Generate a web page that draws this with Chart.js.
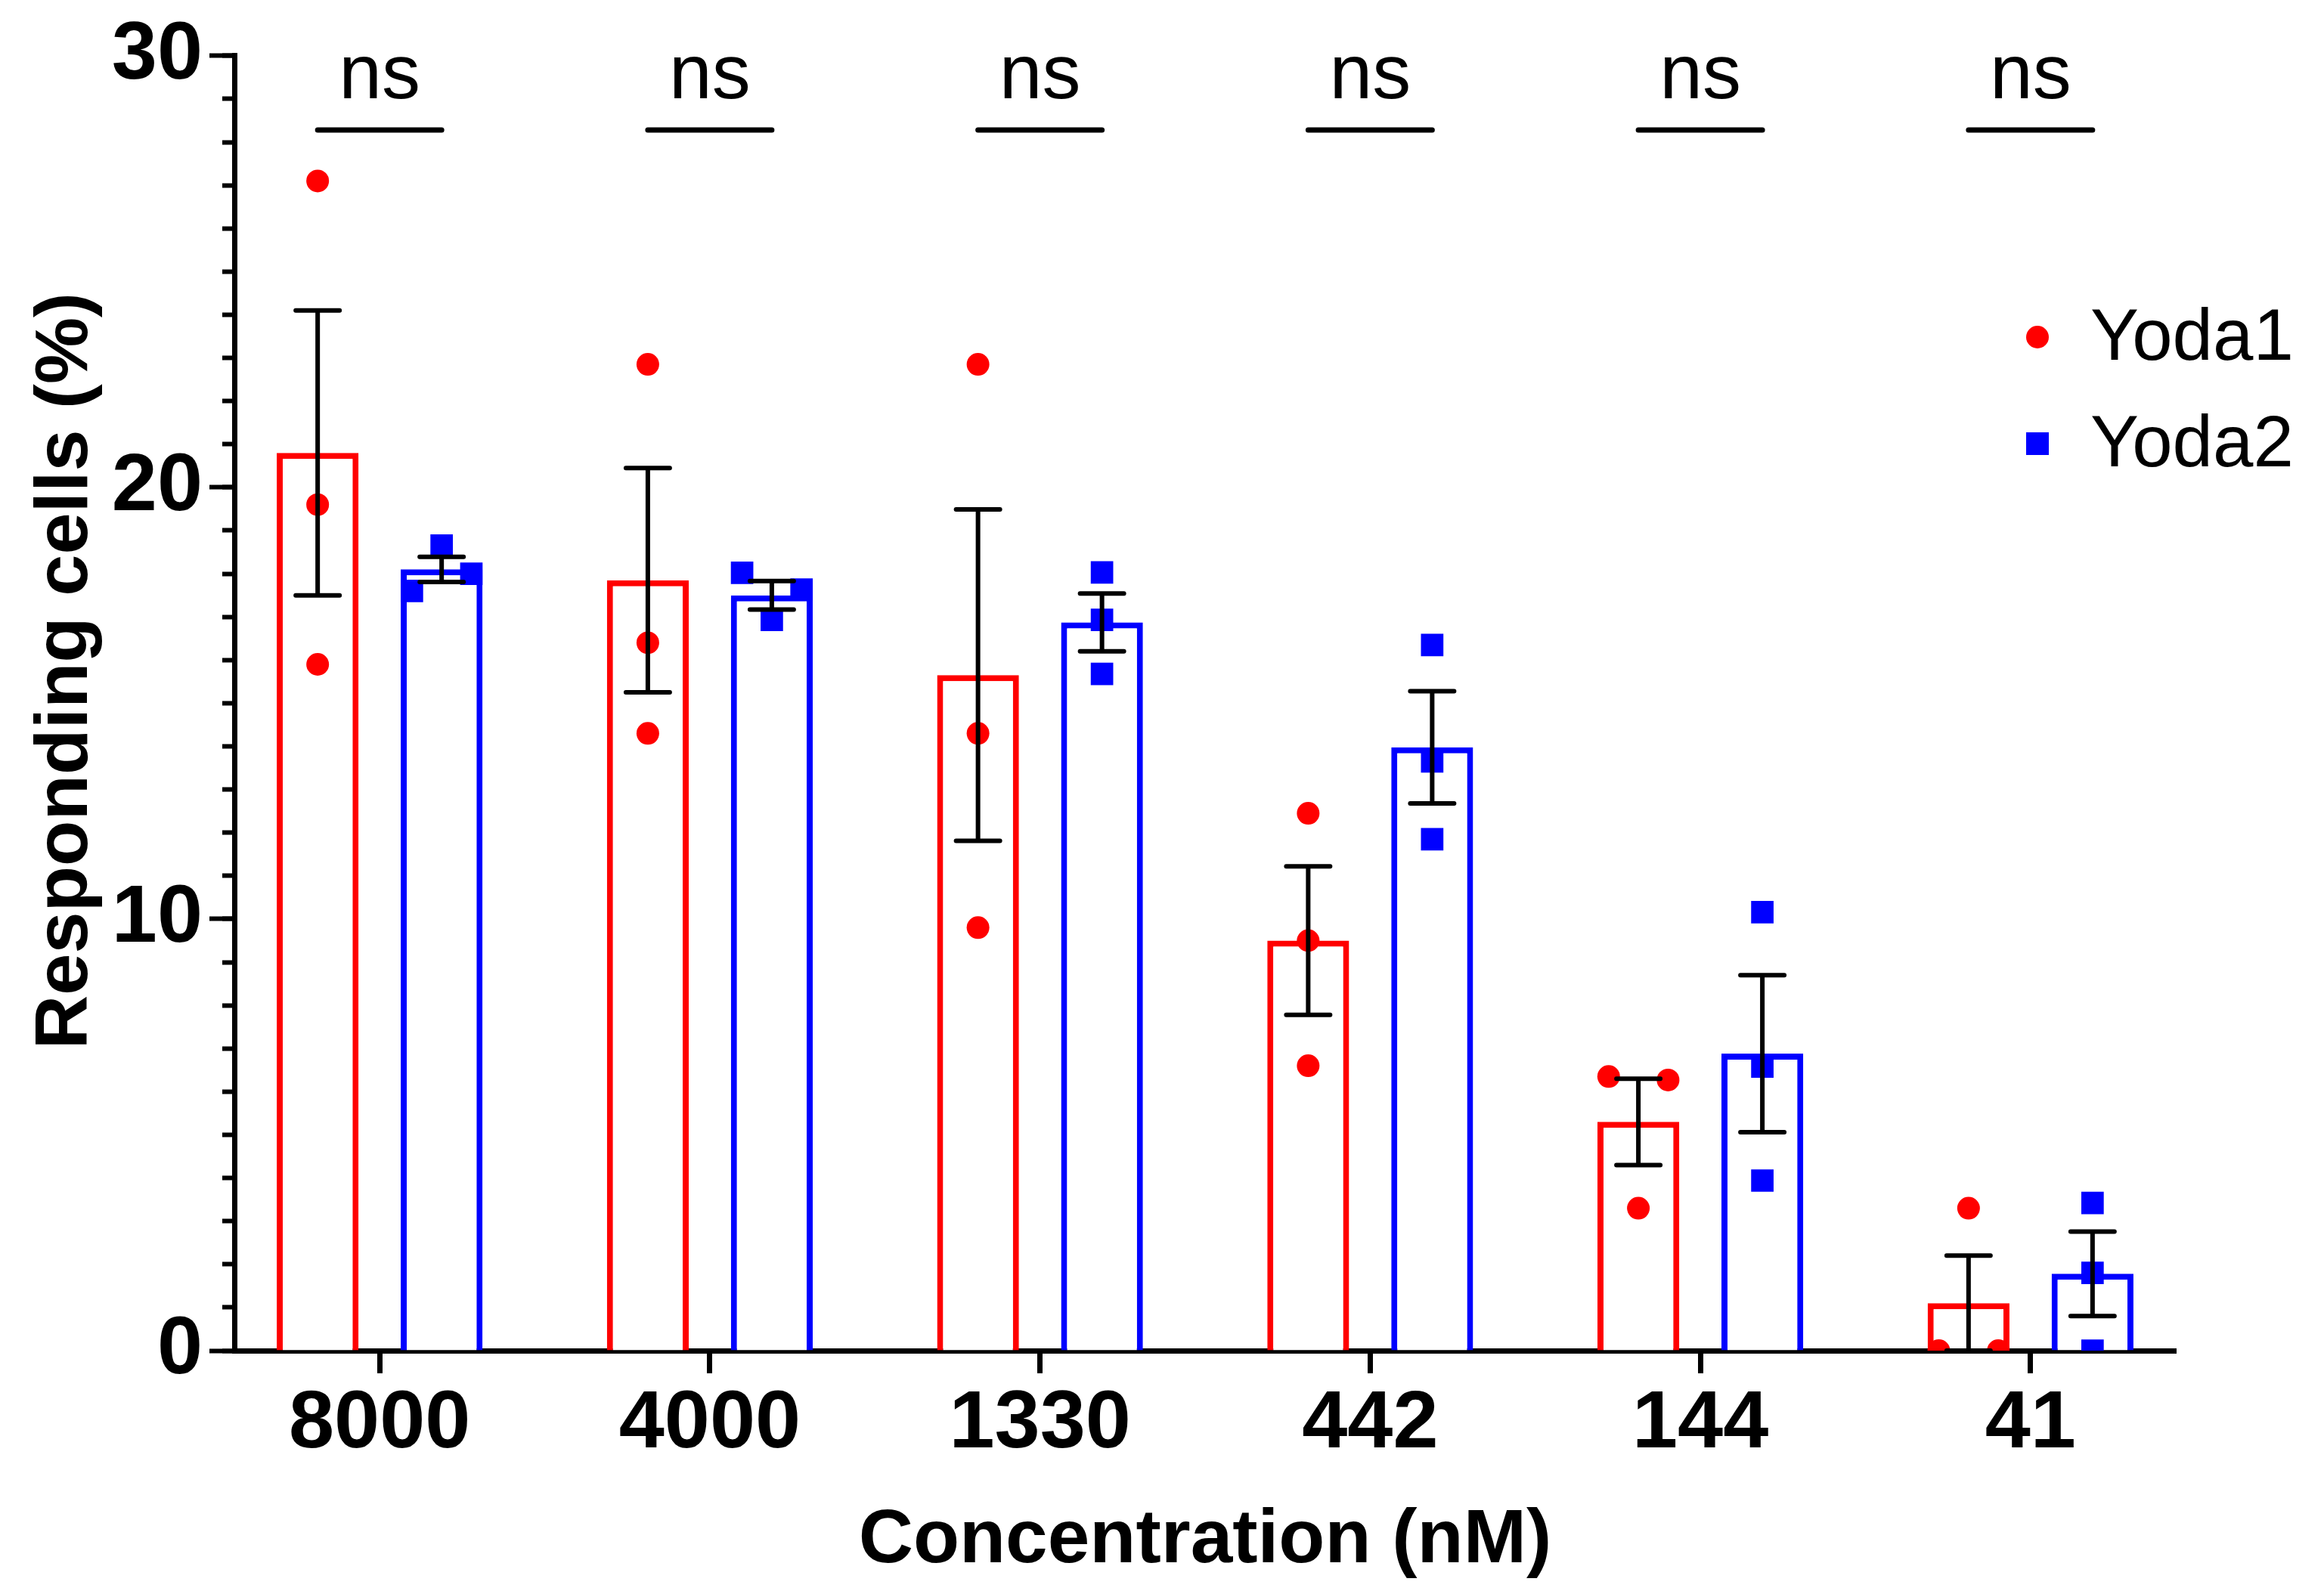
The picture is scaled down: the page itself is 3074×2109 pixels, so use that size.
<!DOCTYPE html>
<html>
<head>
<meta charset="utf-8">
<script src="https://cdn.jsdelivr.net/npm/chart.js@4.4.0/dist/chart.umd.min.js"></script>
<style>
html, body { margin: 0; padding: 0; background: #fff; }
canvas { display: block; }
</style>
</head>
<body>
<canvas id="chart" width="3074" height="2109"></canvas>
<script>
// valores
var categories = ['8000', '4000', '1330', '442', '144', '41'];
var yoda1Mean = [20.8, 17.85, 15.65, 9.5, 5.3, 1.1];
var yoda1Sem = [3.3, 2.6, 3.84, 1.72, 1.0, 1.1];
var yoda2Mean = [18.1, 17.5, 16.87, 13.98, 6.88, 1.78];
var yoda2Sem = [0.29, 0.33, 0.67, 1.3, 1.82, 0.98];
var yoda1Points = [[27.1, 19.6, 15.9], [22.85, 16.4, 14.3], [22.85, 14.3, 9.8], [12.45, 9.5, 6.6], [6.35, 6.27, 3.3], [3.3, 0, 0]];
var yoda1Jitter = [[0, 0, 0], [0, 0, 0], [0, 0, 0], [0, 0, 0], [-1, 1, 0], [0, -1, 1]];
var yoda2Points = [[18.65, 18.0, 17.6], [18.02, 16.93, 17.63], [18.03, 16.93, 15.68], [16.35, 13.65, 11.85], [10.16, 6.58, 3.94], [3.42, 1.8, 0]];
var yoda2Jitter = [[0, 1, -1], [-1, 0, 1], [0, 0, 0], [0, 0, 0], [0, 0, 0], [0, 0, 0]];
var significance = ['ns', 'ns', 'ns', 'ns', 'ns', 'ns'];
var yMajorTicks = [0, 10, 20, 30];
var yTitle = 'Responding cells (%)';

var RED = '#ff0000';
var BLUE = '#0000ff';
var FONT = '"Liberation Sans", Arial, Helvetica, sans-serif';
var GROUP = 0.751;   // categoryPercentage
var BARP = 0.66;     // barPercentage
var SHIFT = GROUP / 4;
var JITTER = 0.09;

function barData(means) {
    return means.map(function (v, i) { return { x: i, y: v }; });
}

function pointsFor(points, jitter, shift) {
    var out = [];
    points.forEach(function (vals, i) {
        vals.forEach(function (v, k) {
            out.push({ x: i + shift + jitter[i][k] * JITTER, y: v });
        });
    });
    return out;
}

// barras de erro (média ± EPM)
var errorBars = {
    id: 'errorBars',
    afterDatasetsDraw: function (chart) {
        var ctx = chart.ctx;
        var xs = chart.scales.x, ys = chart.scales.y;
        var series = [[yoda1Mean, yoda1Sem, -SHIFT], [yoda2Mean, yoda2Sem, SHIFT]];
        ctx.save();
        ctx.strokeStyle = '#000';
        ctx.lineWidth = 6;
        ctx.lineCap = 'round';
        series.forEach(function (s) {
            s[0].forEach(function (m, i) {
                var x = xs.getPixelForValue(i + s[2]);
                var top = ys.getPixelForValue(m + s[1][i]);
                var bot = ys.getPixelForValue(Math.max(0, m - s[1][i]));
                ctx.beginPath();
                ctx.moveTo(x, top); ctx.lineTo(x, bot);
                ctx.moveTo(x - 29, top); ctx.lineTo(x + 29, top);
                ctx.moveTo(x - 29, bot); ctx.lineTo(x + 29, bot);
                ctx.stroke();
            });
        });
        ctx.restore();
    }
};

// "ns" acima de cada grupo
var sigLabels = {
    id: 'sigLabels',
    afterDatasetsDraw: function (chart) {
        var ctx = chart.ctx;
        var xs = chart.scales.x, ys = chart.scales.y;
        ctx.save();
        ctx.strokeStyle = '#000';
        ctx.fillStyle = '#000';
        ctx.lineWidth = 7;
        ctx.lineCap = 'round';
        ctx.font = '102px ' + FONT;
        ctx.textAlign = 'center';
        ctx.textBaseline = 'alphabetic';
        significance.forEach(function (txt, i) {
            var y = ys.getPixelForValue(28.28);
            ctx.beginPath();
            ctx.moveTo(xs.getPixelForValue(i - SHIFT), y);
            ctx.lineTo(xs.getPixelForValue(i + SHIFT), y);
            ctx.stroke();
            ctx.fillText(txt, xs.getPixelForValue(i), ys.getPixelForValue(29.02));
        });
        ctx.restore();
    }
};

// título do eixo y (um pouco acima do centro, como no original)
var yAxisTitle = {
    id: 'yAxisTitle',
    afterDraw: function (chart) {
        var ctx = chart.ctx;
        var ys = chart.scales.y;
        ctx.save();
        ctx.translate(88, ys.getPixelForValue(15.75));
        ctx.rotate(-Math.PI / 2);
        ctx.font = 'bold 99px ' + FONT;
        ctx.fillStyle = '#000';
        ctx.textAlign = 'center';
        ctx.textBaseline = 'middle';
        ctx.fillText(yTitle, 0, 0);
        ctx.restore();
    }
};

// legenda dentro da área do gráfico
var sideLegend = {
    id: 'sideLegend',
    afterDraw: function (chart) {
        var ctx = chart.ctx;
        var area = chart.chartArea;
        var items = [chart.data.datasets[2], chart.data.datasets[3]];
        var mx = area.right - 183;
        ctx.save();
        ctx.font = '96px ' + FONT;
        ctx.textAlign = 'left';
        ctx.textBaseline = 'middle';
        items.forEach(function (ds, k) {
            var y = 446 + k * 141;
            ctx.fillStyle = ds.backgroundColor;
            if (ds.pointStyle === 'rect') {
                ctx.fillRect(mx - 15, y - 15, 30, 30);
            } else {
                ctx.beginPath();
                ctx.arc(mx, y, 15, 0, Math.PI * 2);
                ctx.fill();
            }
            ctx.fillStyle = '#000';
            ctx.fillText(ds.label, mx + 70, y + 4);
        });
        ctx.restore();
    }
};

var ctx = document.getElementById('chart').getContext('2d');
new Chart(ctx, {
    type: 'bar',
    data: {
        datasets: [
            {
                type: 'bar', label: 'Yoda1', data: barData(yoda1Mean),
                borderColor: RED, backgroundColor: '#ffffff', borderWidth: 8, borderSkipped: 'start',
                categoryPercentage: GROUP, barPercentage: BARP, order: 3
            },
            {
                type: 'bar', label: 'Yoda2', data: barData(yoda2Mean),
                borderColor: BLUE, backgroundColor: '#ffffff', borderWidth: 8, borderSkipped: 'start',
                categoryPercentage: GROUP, barPercentage: BARP, order: 3
            },
            {
                type: 'scatter', label: 'Yoda1', data: pointsFor(yoda1Points, yoda1Jitter, -SHIFT),
                pointStyle: 'circle', pointRadius: 15, backgroundColor: RED, borderWidth: 0, order: 1
            },
            {
                type: 'scatter', label: 'Yoda2', data: pointsFor(yoda2Points, yoda2Jitter, SHIFT),
                pointStyle: 'rect', pointRadius: 21, backgroundColor: BLUE, borderWidth: 0, order: 1
            }
        ]
    },
    options: {
        responsive: false,
        devicePixelRatio: 1,
        animation: false,
        layout: { padding: { top: 68, right: 196, left: 0, bottom: 0 } },
        plugins: { legend: { display: false }, tooltip: { enabled: false } },
        scales: {
            x: {
                type: 'linear', min: -0.44, max: 5.44, offset: false,
                afterBuildTicks: function (s) { s.ticks = categories.map(function (c, i) { return { value: i }; }); },
                afterFit: function (s) { s.height = 322; },
                border: { display: true, color: '#000', width: 7 },
                grid: { drawOnChartArea: false, offset: false, drawTicks: true, tickLength: 30, tickWidth: 7, tickColor: '#000' },
                ticks: {
                    autoSkip: false, maxRotation: 0, padding: 3, color: '#000',
                    font: { family: FONT, size: 108, weight: 'bold' },
                    callback: function (v) { return categories[v]; }
                },
                title: {
                    display: true, text: 'Concentration (nM)', color: '#000',
                    font: { family: FONT, size: 100, weight: 'bold' }, padding: { top: 0, bottom: 10 }
                }
            },
            y: {
                type: 'linear', position: 'left', min: 0, max: 30, weight: 1,
                afterBuildTicks: function (s) { s.ticks = yMajorTicks.map(function (v) { return { value: v }; }); },
                afterFit: function (s) { s.width = 310; },
                border: { display: true, color: '#000', width: 7 },
                grid: { drawOnChartArea: false, drawTicks: true, tickLength: 33, tickWidth: 6, tickColor: '#000' },
                ticks: { padding: 9, color: '#000', font: { family: FONT, size: 108, weight: 'bold' } }
            },
            yMinor: {
                type: 'linear', position: 'left', min: 0, max: 30, weight: 0,
                afterBuildTicks: function (s) {
                    var t = [];
                    for (var v = 0; v <= 30; v++) t.push({ value: v });
                    s.ticks = t;
                },
                afterFit: function (s) { s.width = 0; },
                border: { display: false },
                grid: { drawOnChartArea: false, drawTicks: true, tickLength: 16, tickWidth: 6, tickColor: '#000' },
                ticks: { display: false }
            }
        }
    },
    plugins: [errorBars, sigLabels, yAxisTitle, sideLegend]
});
</script>
</body>
</html>
